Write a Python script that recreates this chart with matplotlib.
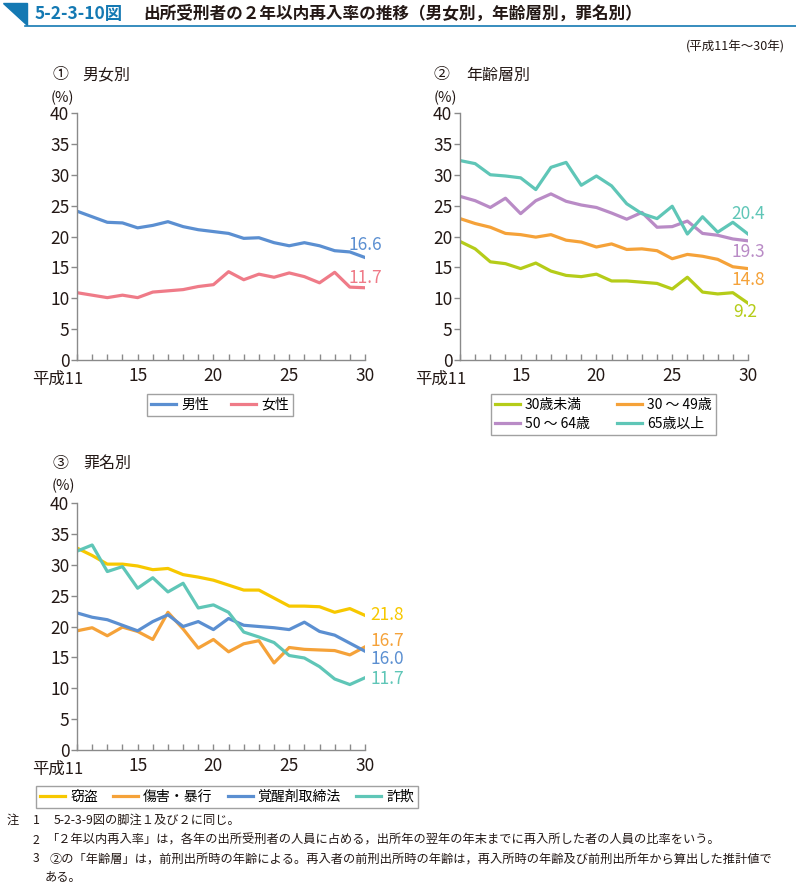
import matplotlib
matplotlib.use("Agg")
import matplotlib.pyplot as plt
from matplotlib.patches import Polygon
from matplotlib.lines import Line2D

plt.rcParams['font.family'] = ['Noto Sans CJK JP', 'DejaVu Sans']

# 平成11年～30年
years = list(range(11, 31))
year_ticks = [11, 15, 20, 25, 30]

# ① 男女別
male = [24.1, 23.2, 22.3, 22.2, 21.4, 21.8, 22.4, 21.6, 21.1, 20.8, 20.5, 19.7, 19.8, 19.0, 18.5, 19.0, 18.5, 17.7, 17.5, 16.6]
female = [10.9, 10.5, 10.1, 10.5, 10.1, 11.0, 11.2, 11.4, 11.9, 12.2, 14.3, 13.0, 13.9, 13.4, 14.1, 13.5, 12.5, 14.2, 11.8, 11.7]

# ② 年齢層別
age_u30 = [19.2, 18.0, 15.9, 15.6, 14.8, 15.7, 14.4, 13.7, 13.5, 13.9, 12.8, 12.8, 12.6, 12.4, 11.5, 13.4, 11.0, 10.7, 10.9, 9.2]
age_30_49 = [22.9, 22.1, 21.5, 20.5, 20.3, 19.9, 20.3, 19.4, 19.1, 18.3, 18.8, 17.9, 18.0, 17.7, 16.4, 17.1, 16.8, 16.3, 15.1, 14.8]
age_50_64 = [26.5, 25.8, 24.7, 26.2, 23.7, 25.8, 26.9, 25.7, 25.1, 24.7, 23.8, 22.8, 23.9, 21.5, 21.6, 22.5, 20.5, 20.2, 19.6, 19.3]
age_65 = [32.3, 31.8, 30.0, 29.8, 29.5, 27.6, 31.2, 32.0, 28.3, 29.8, 28.2, 25.3, 23.7, 22.9, 24.9, 20.4, 23.2, 20.7, 22.3, 20.4]

# ③ 罪名別
theft = [32.7, 31.5, 30.1, 30.1, 29.8, 29.2, 29.4, 28.4, 28.0, 27.5, 26.7, 25.9, 25.9, 24.6, 23.3, 23.3, 23.2, 22.3, 22.9, 21.8]
assault = [19.3, 19.8, 18.5, 19.9, 19.2, 17.9, 22.3, 19.6, 16.5, 17.9, 15.9, 17.2, 17.7, 14.1, 16.6, 16.3, 16.2, 16.1, 15.4, 16.7]
stimulant = [22.2, 21.5, 21.1, 20.2, 19.3, 20.8, 21.9, 20.0, 20.8, 19.5, 21.3, 20.2, 20.0, 19.8, 19.5, 20.7, 19.2, 18.6, 17.3, 16.0]
fraud = [32.2, 33.2, 28.9, 29.7, 26.2, 27.9, 25.6, 27.0, 23.0, 23.5, 22.3, 19.1, 18.3, 17.4, 15.3, 14.9, 13.5, 11.5, 10.6, 11.7]

BLUE = '#5b8fd1'
PINK = '#ef7b88'
LIME = '#b5cc19'
ORANGE = '#f5a239'
PURPLE = '#b98bc6'
TEAL = '#5fc6b7'
YELLOW = '#f7c800'
TITLE_BLUE = '#1479b3'
TXT = '#231815'

W, H = 796, 889
fig = plt.figure(figsize=(W / 100, H / 100), dpi=100)


def px_axes(left, top, right, bottom):
    return fig.add_axes([left / W, 1 - bottom / H, (right - left) / W, (bottom - top) / H])


def style_axes(ax):
    ax.set_xlim(11, 30)
    ax.set_ylim(0, 40)
    ax.set_yticks(range(0, 41, 5))
    ax.set_xticks(years, minor=True)
    ax.set_xticks(year_ticks)
    ax.set_xticklabels([''] + [str(y) for y in year_ticks[1:]])
    for s in ['top', 'right']:
        ax.spines[s].set_visible(False)
    for s in ['left', 'bottom']:
        ax.spines[s].set_color('#8a8a8a')
        ax.spines[s].set_linewidth(1.0)
    ax.tick_params(axis='y', direction='out', length=4, width=1, color='#8a8a8a',
                   labelsize=12.5, pad=1.5, labelcolor=TXT)
    ax.tick_params(axis='x', which='both', direction='in', length=4.5, width=1,
                   color='#8a8a8a', labelsize=12.5, pad=5, labelcolor=TXT)
    ax.annotate('平成11', xy=(11, 0), xycoords=('data', 'axes fraction'),
                xytext=(4.5, -7.5), textcoords='offset points', ha='right', va='top',
                fontsize=11.8, color=TXT)


def legend_box(ax, handles, labels, cx, cy, ncol, colsp, lsp=0.15):
    leg = ax.legend(handles, labels, loc='center', bbox_to_anchor=(cx / W, 1 - cy / H),
                    bbox_transform=fig.transFigure, ncol=ncol, fontsize=10,
                    frameon=True, fancybox=False, handlelength=1.8, handletextpad=0.35,
                    columnspacing=colsp, borderpad=0.3, labelspacing=lsp, borderaxespad=0)
    leg.get_frame().set_edgecolor('#8a8a8a')
    leg.get_frame().set_linewidth(1.0)
    return leg


lw = 2.3

# ① 男女別
ax1 = px_axes(77, 113, 365, 360)
style_axes(ax1)
ax1.plot(years, male, color=BLUE, lw=lw)
ax1.plot(years, female, color=PINK, lw=lw)
ax1.text(30, male[-1] + 2.0, '%.1f' % male[-1], color=BLUE, ha='center', va='center', fontsize=12.5)
ax1.text(30, female[-1] + 1.6, '%.1f' % female[-1], color=PINK, ha='center', va='center', fontsize=12.5)
h1 = [Line2D([], [], color=c, lw=2.3) for c in [BLUE, PINK]]
legend_box(ax1, h1, ['男性', '女性'], 220, 405, 2, 1.6)

# ② 年齢層別
ax2 = px_axes(460, 113, 748, 360)
style_axes(ax2)
for vals, c in [(age_u30, LIME), (age_30_49, ORANGE), (age_50_64, PURPLE), (age_65, TEAL)]:
    ax2.plot(years, vals, color=c, lw=lw)
ax2.text(30, age_65[-1] + 3.2, '%.1f' % age_65[-1], color=TEAL, ha='center', va='center', fontsize=12.5)
ax2.text(30, age_50_64[-1] - 1.8, '%.1f' % age_50_64[-1], color=PURPLE, ha='center', va='center', fontsize=12.5)
ax2.text(30, age_30_49[-1] - 1.8, '%.1f' % age_30_49[-1], color=ORANGE, ha='center', va='center', fontsize=12.5)
ax2.text(29.85, age_u30[-1] - 1.4, '%.1f' % age_u30[-1], color=LIME, ha='center', va='center', fontsize=12.5)
h2 = [Line2D([], [], color=c, lw=2.3) for c in [LIME, PURPLE, ORANGE, TEAL]]
legend_box(ax2, h2, ['30歳未満', '50 ～ 64歳', '30 ～ 49歳', '65歳以上'], 603.5, 414.5, 2, 2.0, 0.4)

# ③ 罪名別
ax3 = px_axes(77, 503, 365, 750)
style_axes(ax3)
for vals, c in [(theft, YELLOW), (assault, ORANGE), (stimulant, BLUE), (fraud, TEAL)]:
    ax3.plot(years, vals, color=c, lw=lw)
ax3.text(30.35, 21.9, '%.1f' % theft[-1], color=YELLOW, ha='left', va='center', fontsize=12.5)
ax3.text(30.35, 17.7, '%.1f' % assault[-1], color=ORANGE, ha='left', va='center', fontsize=12.5)
ax3.text(30.35, 14.7, '%.1f' % stimulant[-1], color=BLUE, ha='left', va='center', fontsize=12.5)
ax3.text(30.35, 11.5, '%.1f' % fraud[-1], color=TEAL, ha='left', va='center', fontsize=12.5)
h3 = [Line2D([], [], color=c, lw=2.3) for c in [YELLOW, ORANGE, BLUE, TEAL]]
legend_box(ax3, h3, ['窃盗', '傷害・暴行', '覚醒剤取締法', '詐欺'], 227, 797, 4, 1.1)


def ftext(x, y, s, **kw):
    fig.text(x / W, 1 - y / H, s, **kw)


# panel headings
for x1, x2, y, a, b in [(52, 82, 75, '①', '男女別'), (433, 466, 75, '②', '年齢層別'), (52, 83, 463, '③', '罪名別')]:
    ftext(x1, y, a, fontsize=11.5, va='center', ha='left', color=TXT)
    ftext(x2, y, b, fontsize=11.5, va='center', ha='left', color=TXT)
for x, y in [(62, 98), (445, 98), (63, 486)]:
    ftext(x, y, '(%)', fontsize=10.5, va='center', ha='center', color=TXT)

# title bar
fig.patches.append(Polygon([[3 / W, 1 - 3 / H], [27 / W, 1 - 3 / H], [27 / W, 1 - 25 / H]],
                           closed=True, transform=fig.transFigure, color=TITLE_BLUE))
fig.add_artist(Line2D([25 / W, 1], [1 - 25.5 / H, 1 - 25.5 / H], color=TITLE_BLUE, lw=1.2,
                      transform=fig.transFigure))
ftext(35, 14, '5-2-3-10図', fontsize=12.5, fontweight='bold', color=TITLE_BLUE, va='center', ha='left')
ftext(143, 14, '出所受刑者の２年以内再入率の推移（男女別，年齢層別，罪名別）', fontsize=12,
      fontweight='bold', color=TXT, va='center', ha='left')
ftext(785, 47, '(平成11年～30年)', fontsize=9, va='center', ha='right', color=TXT)

# notes
nfs = 8.8
ftext(7, 820, '注', fontsize=nfs, va='center', ha='left', color=TXT)
ftext(33, 820, '1', fontsize=nfs, va='center', ha='left', color=TXT)
ftext(54, 820, '5-2-3-9図の脚注１及び２に同じ。', fontsize=nfs, va='center', ha='left', color=TXT)
ftext(33, 840, '2', fontsize=nfs, va='center', ha='left', color=TXT)
ftext(46, 840, '「２年以内再入率」は，各年の出所受刑者の人員に占める，出所年の翌年の年末までに再入所した者の人員の比率をいう。',
      fontsize=nfs, va='center', ha='left', color=TXT)
ftext(33, 859, '3', fontsize=nfs, va='center', ha='left', color=TXT)
ftext(50, 859, '②の「年齢層」は，前刑出所時の年齢による。再入者の前刑出所時の年齢は，再入所時の年齢及び前刑出所年から算出した推計値で',
      fontsize=nfs, va='center', ha='left', color=TXT)
ftext(45, 878, 'ある。', fontsize=nfs, va='center', ha='left', color=TXT)

fig.savefig('out.png', dpi=100)
